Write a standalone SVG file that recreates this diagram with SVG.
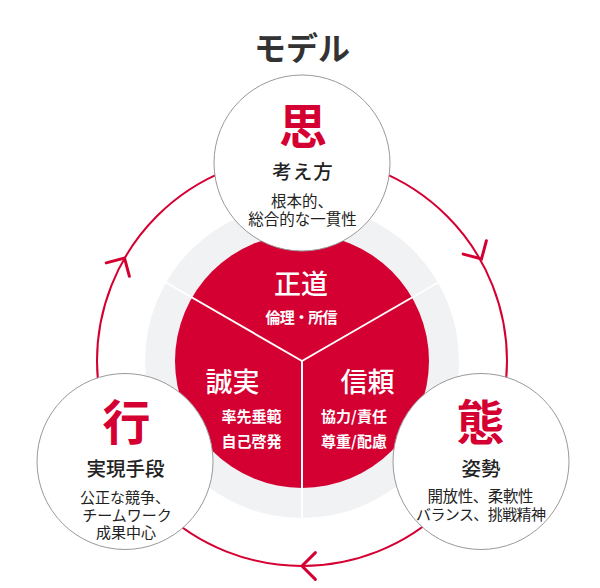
<svg xmlns="http://www.w3.org/2000/svg" width="600" height="588" viewBox="0 0 600 588">
<style>
text{font-family:"Noto Sans CJK JP","Noto Sans",sans-serif;text-anchor:middle}
.title{font-size:32px;font-weight:700;fill:#333}
.big{font-size:48px;font-weight:700;fill:#D50032}
.head{font-size:19.5px;font-weight:500;fill:#222}
.sub{font-size:15.5px;font-weight:400;fill:#222}
.sm{font-size:15px}
.wh{fill:#fff}
.wbig{font-size:27px;font-weight:500}
.wsub{font-size:15px;font-weight:700}
.node{fill:#fff;stroke:#999;stroke-width:1}
.chev{fill:none;stroke:#D50032;stroke-width:3;stroke-linecap:round;stroke-linejoin:miter}
</style>
<defs>
<path id="chev" class="chev" d="M -13.4 -13.4 L 0 0 L -13.4 13.4"/>
</defs>
<rect width="600" height="588" fill="#fff"/>
<text class="title" x="302" y="60">モデル</text>
<g id="core">
<circle cx="302" cy="361" r="157" fill="#F1F2F4"/>
<circle cx="302" cy="361" r="127" fill="#D50032"/>
<g stroke="#fff" stroke-width="2">
<line x1="302" y1="361" x2="166" y2="282.5"/>
<line x1="302" y1="361" x2="438" y2="282.5"/>
<line x1="302" y1="361" x2="302" y2="518"/>
</g>
</g>
<g id="connectors">
<circle cx="302" cy="361" r="205" fill="none" stroke="#D50032" stroke-width="2"/>
<use href="#chev" transform="translate(481.5 259) rotate(60)"/>
<use href="#chev" transform="translate(124.5 258) rotate(-60)"/>
<use href="#chev" transform="translate(302 566) rotate(180)"/>
</g>
<g id="seido">
<text class="wh wbig" x="301" y="294">正道</text>
<text class="wh wsub" x="301.5" y="323" textLength="72" lengthAdjust="spacing">倫理・所信</text>
</g>
<g id="seijitsu">
<text class="wh wbig" x="232.5" y="392">誠実</text>
<text class="wh wsub" x="251.5" y="422">率先垂範</text>
<text class="wh wsub" x="251.5" y="447">自己啓発</text>
</g>
<g id="shinrai">
<text class="wh wbig" x="367.5" y="392">信頼</text>
<text class="wh wsub" x="354" y="422">協力/責任</text>
<text class="wh wsub" x="354" y="447">尊重/配慮</text>
</g>
<g id="omoi">
<circle class="node" cx="302" cy="163" r="88"/>
<text class="big" x="303" y="144">思</text>
<text class="head" x="303" y="179" letter-spacing="1">考え方</text>
<text class="sub" x="302" y="207">根本的、</text>
<text class="sub" x="302.5" y="225">総合的な一貫性</text>
</g>
<g id="gyo">
<circle class="node" cx="125" cy="461.5" r="88"/>
<text class="big" x="126.5" y="440">行</text>
<text class="head" x="125.5" y="476">実現手段</text>
<text class="sub sm" x="125" y="503">公正な競争、</text>
<text class="sub sm" x="127" y="521">チームワーク</text>
<text class="sub sm" x="126" y="538">成果中心</text>
</g>
<g id="tai">
<circle class="node" cx="481" cy="461.5" r="88"/>
<text class="big" x="480.5" y="440">態</text>
<text class="head" x="481" y="476">姿勢</text>
<text class="sub" x="480.5" y="502" textLength="106" lengthAdjust="spacing">開放性、柔軟性</text>
<text class="sub sm" x="481" y="520" textLength="130" lengthAdjust="spacing">バランス、挑戦精神</text>
</g>
</svg>
